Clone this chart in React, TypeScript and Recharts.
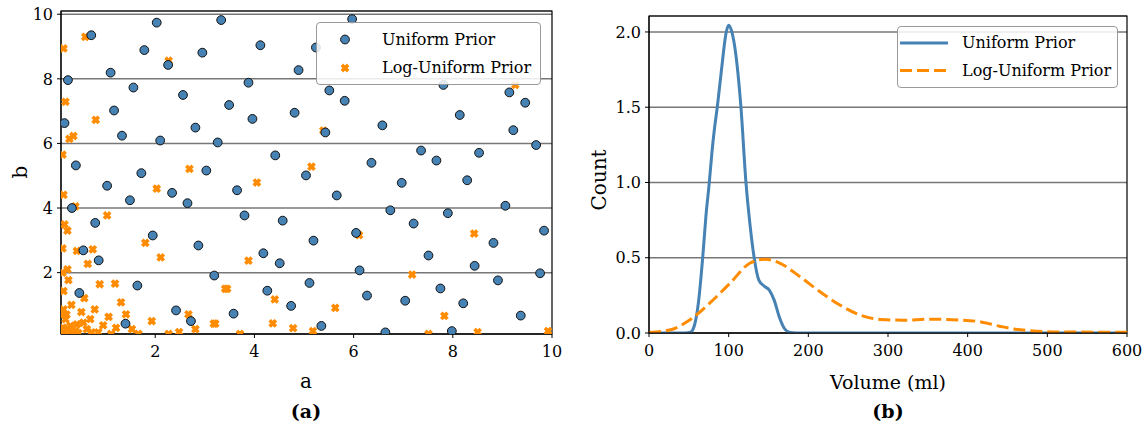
import React from 'react'
import {
  ScatterChart, Scatter, LineChart, Line, XAxis, YAxis, CartesianGrid, ReferenceArea,
} from 'recharts'

// panel (a): samples of the two priors
const uniformA = [0.71, 2.03, 3.33, 5.97, 1.78, 2.95, 2.26, 1.10, 0.24, 1.56, 2.56, 1.17, 4.12, 5.24, 4.89, 3.88, 5.51, 5.82, 3.49, 4.81, 3.96, 7.81, 9.14, 9.46, 8.14,
  0.17, 1.33, 2.10, 2.81, 3.26, 0.40, 1.72, 3.03, 1.03, 1.49, 2.34, 2.65, 0.32, 0.79,
  5.43, 6.58, 4.42, 6.36, 5.04, 3.65, 5.66, 3.80, 4.57,
  9.22, 9.68, 7.36, 7.67, 8.53, 6.97, 8.29, 6.74, 7.90, 9.06, 7.21,
  1.95, 2.87, 0.55, 0.86, 3.19, 1.64, 0.47, 2.42, 2.72, 1.40,
  6.05, 5.19, 4.18, 4.51, 6.12, 5.11, 4.26, 6.27, 4.74, 3.58, 5.35, 6.64,
  9.84, 8.82, 7.51, 8.44, 9.76, 8.91, 7.75, 7.04, 8.21, 9.37, 7.98]
const uniformB = [9.35, 9.74, 9.82, 9.85, 8.89, 8.81, 8.43, 8.19, 7.96, 7.73, 7.50, 7.02, 9.04, 8.97, 8.27, 7.88, 7.64, 7.32, 7.19, 6.95, 6.76, 7.81, 7.58, 7.26, 6.88,
  6.63, 6.24, 6.09, 6.49, 6.03, 5.32, 5.08, 5.16, 4.69, 4.24, 4.47, 4.15, 4.00, 3.54,
  6.34, 6.56, 5.63, 5.40, 5.01, 4.55, 4.39, 3.77, 3.61,
  6.41, 5.95, 5.78, 5.47, 5.71, 4.78, 4.86, 3.93, 3.84, 4.07, 3.52,
  3.15, 2.84, 2.69, 2.38, 1.91, 1.60, 1.37, 0.83, 0.50, 0.42,
  3.23, 2.99, 2.60, 2.29, 2.07, 1.68, 1.44, 1.29, 0.97, 0.73, 0.35, 0.15,
  3.30, 2.92, 2.53, 2.21, 1.98, 1.76, 1.51, 1.13, 1.05, 0.67, 0.19]

const logA = [0.59, 0.15, 0.19, 2.27, 0.80, 9.26,
  0.27, 0.35, 0.13, 2.69, 2.03, 0.15, 0.39, 1.03, 0.17,
  5.39, 5.15, 4.05,
  0.23, 0.42, 0.74, 0.64, 1.80, 2.11, 0.23, 0.25, 0.15, 0.88, 1.19, 0.57, 0.31, 1.31, 0.51, 0.78, 1.41, 1.06, 0.69, 1.93, 2.67, 3.18, 0.95, 1.21, 1.53, 0.42, 0.62, 0.24, 0.19, 0.29, 2.81, 2.48, 2.27, 1.11, 1.66, 3.41, 0.15, 0.39, 0.72,
  6.11, 3.88, 3.45, 4.41, 5.63, 3.21, 4.37, 4.78, 5.18, 3.71,
  8.43, 7.18, 7.83, 7.51, 8.50, 9.92, 6.64,
  0.12, 0.20, 0.33, 0.14, 0.45, 0.55, 0.85, 0.13, 0.13, 0.12, 0.21]
const logB = [9.30, 8.94, 7.29, 8.56, 6.73, 7.81,
  6.14, 6.23, 5.65, 5.21, 4.60, 4.41, 4.05, 3.77, 3.49,
  6.40, 5.28, 4.79,
  3.30, 2.67, 2.72, 2.27, 2.92, 2.47, 2.10, 1.77, 1.43, 1.64, 1.66, 1.21, 1.00, 1.08, 0.78, 0.86, 0.71, 0.63, 0.56, 0.50, 0.71, 0.42, 0.37, 0.29, 0.25, 0.40, 0.25, 0.25, 0.56, 0.35, 0.25, 0.16, 0.10, 0.10, 0.10, 1.50, 0.86, 0.19, 0.15,
  3.16, 2.37, 1.50, 1.17, 0.91, 0.42, 0.43, 0.28, 0.19, 0.10,
  3.21, 1.94, 0.66, 0.10, 0.16, 0.19, 0.10,
  0.12, 0.15, 0.12, 0.30, 0.13, 0.45, 0.15, 2.00, 2.75, 0.70, 0.70]

const abTicks = [2, 4, 6, 8, 10]

// panel (b): posterior volume densities
const uniVolume = [0, 45, 52, 57, 62, 67.4, 71.5, 75.7, 79, 82, 85.7, 91, 97, 100, 104, 109, 115.4, 121.7, 127, 132, 138, 145, 151, 157, 164, 170, 177, 185, 600]
const uniCount = [0, 0, 0.005, 0.05, 0.2, 0.5, 0.78, 1.0, 1.2, 1.35, 1.5, 1.75, 2.0, 2.045, 2.0, 1.85, 1.5, 1.0, 0.71, 0.5, 0.35, 0.31, 0.285, 0.22, 0.1, 0.03, 0.003, 0, 0]
const logVolume = [0, 26, 51, 76.5, 101.6, 127, 146, 164, 189.5, 214.6, 239.6, 264.7, 290, 320, 350, 390, 415, 440, 460, 478, 516, 600]
const logCount = [0.005, 0.02, 0.086, 0.2, 0.33, 0.465, 0.49, 0.465, 0.374, 0.274, 0.186, 0.12, 0.09, 0.085, 0.092, 0.086, 0.075, 0.045, 0.025, 0.015, 0.007, 0.005]

const volTicks = [0, 100, 200, 300, 400, 500, 600]
const countTicks = [0, 0.5, 1, 1.5, 2]

const BLUE = '#4682b4'
const ORANGE = '#ff8c00'
const FONT = "'DejaVu Serif', serif"

const uniformPts = uniformA.map((a, i) => ({ a, b: uniformB[i] }))
const logPts = logA.map((a, i) => ({ a, b: logB[i] }))
const uniLine = uniVolume.map((v, i) => ({ volume: v, count: uniCount[i] }))
const logLine = logVolume.map((v, i) => ({ volume: v, count: logCount[i] }))

const xPath = 'M-1.8,-4.4L1.8,-4.4L1.8,-1.8L4.4,-1.8L4.4,1.8L1.8,1.8L1.8,4.4L-1.8,4.4L-1.8,1.8L-4.4,1.8L-4.4,-1.8L-1.8,-1.8Z'

const BlueDot = (p: any) => (
  <circle cx={p.cx} cy={p.cy} r={4.4} fill={BLUE} stroke="#111" strokeWidth={1} />
)
const OrangeX = (p: any) => (
  <path d={xPath} transform={`translate(${p.cx},${p.cy}) rotate(45)`} fill={ORANGE} />
)

const tick = { fill: '#000', fontSize: 16, fontFamily: FONT }

const Txt = ({ x, y, size, bold, rotate, children }: any) => (
  <div style={{
    position: 'absolute', left: x, top: y, transform: `translate(-50%,-50%)${rotate ? ' rotate(-90deg)' : ''}`,
    fontSize: size, fontWeight: bold ? 'bold' : 'normal', whiteSpace: 'nowrap', lineHeight: 1, fontFamily: FONT,
  }}>{children}</div>
)

const legendBox = (left: number, top: number, w: number, h: number): React.CSSProperties => ({
  position: 'absolute', left, top, width: w, height: h, boxSizing: 'border-box',
  border: '1px solid #999', borderRadius: 4, background: 'rgba(255,255,255,0.85)', fontFamily: FONT,
})

const legText = (left: number, top: number): React.CSSProperties => ({
  position: 'absolute', left, top, transform: 'translateY(-50%)', fontSize: 16, lineHeight: 1, whiteSpace: 'nowrap', fontFamily: FONT,
})

export default function App() {
  return (
    <div style={{ position: 'absolute', left: 0, top: 0, width: 1145, height: 429, background: '#fff', fontFamily: FONT, color: '#000' }}>
      <div style={{ position: 'absolute', left: 0, top: 0 }}>
        <ScatterChart width={576} height={429} margin={{ top: 11, right: 24, bottom: 65, left: 0 }} style={{ fontFamily: FONT }}>
          <CartesianGrid vertical={false} stroke="#777" strokeWidth={1.5} />
          <XAxis type="number" dataKey="a" domain={[0.1, 10]} ticks={abTicks} allowDataOverflow
            tick={tick} tickSize={4} tickMargin={8} height={30} axisLine={{ stroke: '#000' }} tickLine={{ stroke: '#000' }} />
          <YAxis type="number" dataKey="b" domain={[0.1, 10.1]} ticks={abTicks} allowDataOverflow
            tick={tick} tickSize={4} tickMargin={4} width={61} axisLine={{ stroke: '#000' }} tickLine={{ stroke: '#000' }} />
          <ReferenceArea x1={0.1} x2={10} y1={0.1} y2={10.1} fill="none" stroke="#000" strokeWidth={1.2} />
          <Scatter data={logPts} shape={OrangeX} isAnimationActive={false} />
          <Scatter data={uniformPts} shape={BlueDot} isAnimationActive={false} />
        </ScatterChart>
      </div>

      <div style={{ position: 'absolute', left: 580, top: 0 }}>
        <LineChart width={565} height={429} margin={{ top: 16, right: 18, bottom: 66, left: 0 }} style={{ fontFamily: FONT }}>
          <CartesianGrid vertical={false} stroke="#777" strokeWidth={1.5} />
          <XAxis type="number" dataKey="volume" domain={[0, 600]} ticks={volTicks} allowDataOverflow
            tick={tick} tickSize={4} tickMargin={8} height={30} axisLine={{ stroke: '#000' }} tickLine={{ stroke: '#000' }} />
          <YAxis type="number" dataKey="count" domain={[0, 2.106]} ticks={countTicks} allowDataOverflow
            tickFormatter={(v: number) => v.toFixed(1)}
            tick={tick} tickSize={4} tickMargin={4} width={69} axisLine={{ stroke: '#000' }} tickLine={{ stroke: '#000' }} />
          <ReferenceArea x1={0} x2={600} y1={0} y2={2.106} fill="none" stroke="#000" strokeWidth={1.2} />
          <Line data={uniLine} dataKey="count" type="monotone" stroke={BLUE} strokeWidth={3} dot={false} isAnimationActive={false} />
          <Line data={logLine} dataKey="count" type="monotone" stroke={ORANGE} strokeWidth={3} strokeDasharray="12 5" dot={false} isAnimationActive={false} />
        </LineChart>
      </div>

      {/* panel (a) legend */}
      <div style={legendBox(316, 22, 225, 63)}>
        <svg width={50} height={63} style={{ position: 'absolute', left: 4, top: 0 }}>
          <circle cx={24} cy={16.5} r={4.4} fill={BLUE} stroke="#111" strokeWidth={1} />
          <path d={xPath} transform="translate(24,45) rotate(45)" fill={ORANGE} />
        </svg>
        <div style={legText(65, 16.5)}>Uniform Prior</div>
        <div style={legText(65, 45)}>Log-Uniform Prior</div>
      </div>

      {/* panel (b) legend */}
      <div style={legendBox(897, 26, 221, 62)}>
        <svg width={60} height={62} style={{ position: 'absolute', left: 0, top: 0 }}>
          <line x1={2} x2={50} y1={16} y2={16} stroke={BLUE} strokeWidth={3} />
          <line x1={2} x2={50} y1={43.5} y2={43.5} stroke={ORANGE} strokeWidth={3} strokeDasharray="12 5" />
        </svg>
        <div style={legText(64, 16)}>Uniform Prior</div>
        <div style={legText(64, 43.5)}>Log-Uniform Prior</div>
      </div>

      <Txt x={20} y={172} size={20} rotate>b</Txt>
      <Txt x={306} y={381} size={20}>a</Txt>
      <Txt x={306} y={411} size={19} bold>(a)</Txt>
      <Txt x={599} y={180} size={20} rotate>Count</Txt>
      <Txt x={888} y={382} size={19}>Volume (ml)</Txt>
      <Txt x={888} y={411} size={19} bold>(b)</Txt>
    </div>
  )
}
